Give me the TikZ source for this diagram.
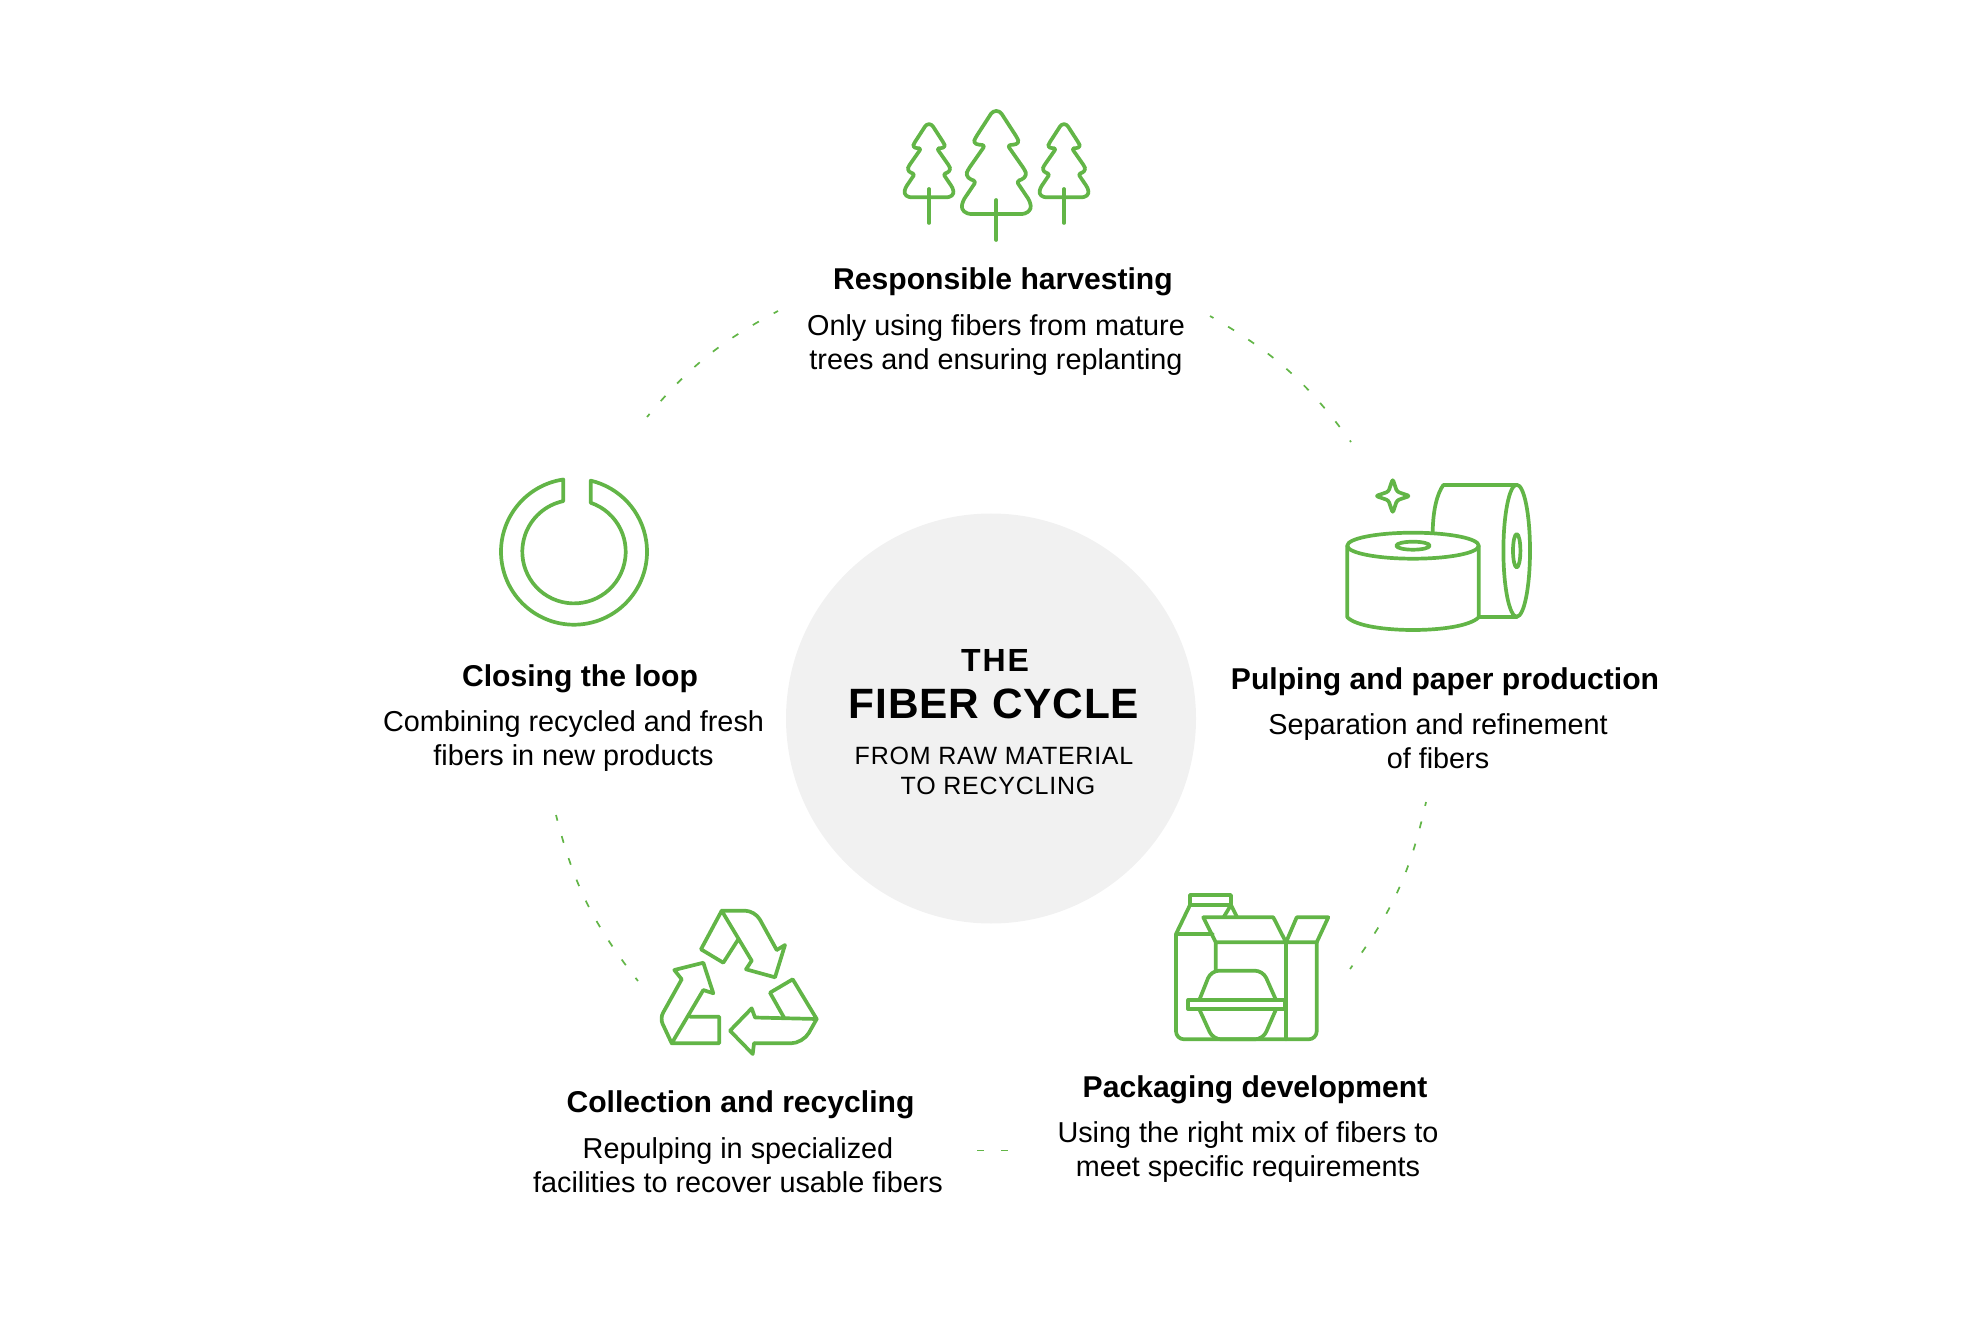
\documentclass[tikz,border=0pt]{standalone}
\usepackage{fontspec}
\setmainfont{Liberation Sans}
\definecolor{leaf}{HTML}{62B547}
\definecolor{hubgray}{HTML}{F1F1F1}

\tikzset{
  x=0.5pt, y=-0.5pt,
  icon/.style={draw=leaf, line width=1.85pt, line cap=round, line join=round},
  trail/.style={draw=leaf, line width=0.85pt, dash pattern=on 3.5pt off 8.5pt, dash phase=1.5pt},
  trailshort/.style={draw=leaf, line width=0.85pt, dash pattern=on 3.5pt off 8pt, dash phase=1.5pt},
  heading/.style={font=\bfseries\fontsize{15.05}{17}\selectfont, inner sep=0pt},
  blurb/.style={align=center, font=\fontsize{14.4}{17}\selectfont, inner sep=0pt},
  treetop/.pic={
    \draw[icon] (3.5,-103) -- (21,-76) -- (23,-71) -- (17,-69) -- (11,-69) -- (28.5,-44) -- (30.5,-39) -- (25.5,-34) -- (20,-33) -- (33.5,-13) -- (35,-5) -- (29,0) -- (-29,0) -- (-35,-5) -- (-33.5,-13) -- (-20,-33) -- (-25.5,-34) -- (-30.5,-39) -- (-28.5,-44) -- (-11,-69) -- (-17,-69) -- (-23,-71) -- (-21,-76) -- (-3.5,-103) -- cycle;
  }
}

\begin{document}
\begin{tikzpicture}
\useasboundingbox (0,0) rectangle (1980,1320);

\node[circle, fill=hubgray, minimum size=205pt, inner sep=0pt] at (991,718.5) (hub) {};
\node[font=\bfseries\fontsize{16}{18}\selectfont, inner sep=0pt] at (995,660) (hub_the) {\addfontfeature{LetterSpace=6}THE};
\node[font=\bfseries\fontsize{21.2}{24}\selectfont, inner sep=0pt] at (994,704) (hub_title) {\addfontfeature{LetterSpace=2}FIBER CYCLE};
\node[font=\fontsize{12.5}{15}\selectfont, inner sep=0pt] at (994,756) (hub_from) {\addfontfeature{LetterSpace=3}FROM RAW MATERIAL};
\node[font=\fontsize{12.5}{15}\selectfont, inner sep=0pt] at (998,785.5) (hub_to) {\addfontfeature{LetterSpace=3}TO RECYCLING};

\node[heading] at (1003,281.5) (harvest_title) {Responsible harvesting};
\node[blurb] at (996,345) (harvest_text) {Only using fibers from mature\\trees and ensuring replanting};
\node[heading] at (1445,681.5) (pulp_title) {Pulping and paper production};
\node[blurb] at (1438,741) (pulp_text) {Separation and refinement\\of fibers};
\node[heading] at (1255,1090) (pack_title) {Packaging development};
\node[blurb] at (1248,1152) (pack_text) {Using the right mix of fibers to\\meet specific requirements};
\node[heading] at (740.5,1105) (collect_title) {Collection and recycling};
\node[blurb] at (738,1165) (collect_text) {Repulping in specialized\\facilities to recover usable fibers};
\node[heading] at (580,678.5) (loop_title) {Closing the loop};
\node[blurb] at (573.5,741) (loop_text) {Combining recycled and fresh\\fibers in new products};

\coordinate (trail_a1) at (647,417);
\coordinate (trail_a2) at (778,311);
\coordinate (trail_b1) at (1210,316);
\coordinate (trail_b2) at (1351,442);
\coordinate (trail_c1) at (1426,802);
\coordinate (trail_c2) at (1350,969);
\coordinate (trail_d1) at (1008,1150.5);
\coordinate (trail_d2) at (976,1150.5);
\coordinate (trail_e1) at (638,981);
\coordinate (trail_e2) at (556,815);

\draw[trail, bend left=11] (trail_a1) to (trail_a2);
\draw[trail, bend left=12] (trail_b1) to (trail_b2);
\draw[trailshort, bend left=12] (trail_c1) to (trail_c2);
\draw[trail, dash phase=0pt] (trail_d1) to (trail_d2);
\draw[trailshort, bend left=12] (trail_e1) to (trail_e2);

\pic[scale=1, rounded corners=1.6pt] at (996.3,214) {treetop};
\pic[scale=0.71, rounded corners=1.2pt] at (929,197.3) {treetop};
\pic[scale=0.71, rounded corners=1.2pt] at (1064,197.3) {treetop};
\draw[icon] (996.3,200) -- (996.3,240);
\draw[icon] (929,189) -- (929,223);
\draw[icon] (1064,189) -- (1064,223);

\draw[icon] (1347.3,545.7) -- (1347.3,617.3) .. controls (1356,626) and (1385,630) .. (1413,630) .. controls (1441,630) and (1470,626) .. (1478.7,617.3) -- (1478.7,545.7);
\draw[icon] (1413,545.7) ellipse (32.85pt and 6.5pt);
\draw[icon] (1413,545.7) ellipse (8.35pt and 2pt);
\draw[icon] (1432.7,531.7) .. controls (1433,510) and (1437,494) .. (1443.3,485) -- (1516.7,485);
\draw[icon] (1478.7,616.7) -- (1516.7,616.7);
\draw[icon] (1516.7,550.7) ellipse (6.65pt and 33pt);
\draw[icon] (1516.7,550.7) ellipse (1.85pt and 8.35pt);
\draw[icon, rounded corners=1.2pt] (1392.7,479) -- (1397,491.7) -- (1409.7,496) -- (1397,500.3) -- (1392.7,513) -- (1388.4,500.3) -- (1375.7,496) -- (1388.4,491.7) -- cycle;

\draw[icon] (1190,895) rectangle (1231,905);
\draw[icon] (1190,905) -- (1176,934) -- (1212.7,934);
\draw[icon] (1231,905) -- (1236.7,916.5);
\draw[icon] (1231,905) -- (1224,916.5);
\draw[icon, rounded corners=4pt] (1176,934) -- (1176,1039.3) -- (1316.7,1039.3) -- (1316.7,942.3);
\draw[icon] (1215.7,970) -- (1215.7,942.3) -- (1316.7,942.3) -- (1328.3,917.3) -- (1296.7,917.3) -- (1286,942.3) -- (1273.3,917.3) -- (1203.3,917.3) -- (1215.7,942.3);
\draw[icon] (1286,942.3) -- (1286,1039.3);
\draw[icon] (1188.3,1000) rectangle (1285,1009.3);
\draw[icon, rounded corners=4pt] (1199.3,1000) -- (1211,970.7) -- (1263,970.7) -- (1276,1000);
\draw[icon, rounded corners=4pt] (1199.3,1009.3) -- (1213,1039.3) -- (1263,1039.3) -- (1276,1009.3);

\draw[icon, rounded corners=5pt] (721.7,910.7) -- (755,910.7) -- (776.7,950);
\draw[icon] (776.7,950) -- (785,945) -- (775,977.3) -- (746,969.3) -- (751.7,960.7) -- (721.7,910.7) -- (701,949.3) -- (723.3,962.7) -- (738.3,939.3);
\draw[icon, rounded corners=3pt] (671.7,1043.3) -- (660,1018.3) -- (681.7,979.3);
\draw[icon] (681.7,979.3) -- (674.3,970) -- (703.3,962.7) -- (713.3,993.3) -- (703.3,990) -- (671.7,1043.3) -- (719.3,1043.3) -- (719.3,1016.7) -- (690,1016.7);
\draw[icon] (784,1017.5) -- (770,992.7) -- (792.7,979.3) -- (816.7,1019) -- (755,1017.5) -- (751.7,1008.3) -- (730,1030.7) -- (752.7,1054) -- (754,1043.3);
\draw[icon, rounded corners=6pt] (754,1043.3) -- (803,1043.3) -- (816.7,1019);

\coordinate (loop_center) at (574,551.7);
\draw[icon] ([shift={(98.4:36.5pt)}]loop_center) arc[start angle=98.4, end angle=436.8, radius=36.5pt] -- ([shift={(71.2:25.85pt)}]loop_center) arc[start angle=71.2, end angle=-258.1, radius=25.85pt] -- cycle;
\end{tikzpicture}
\end{document}
